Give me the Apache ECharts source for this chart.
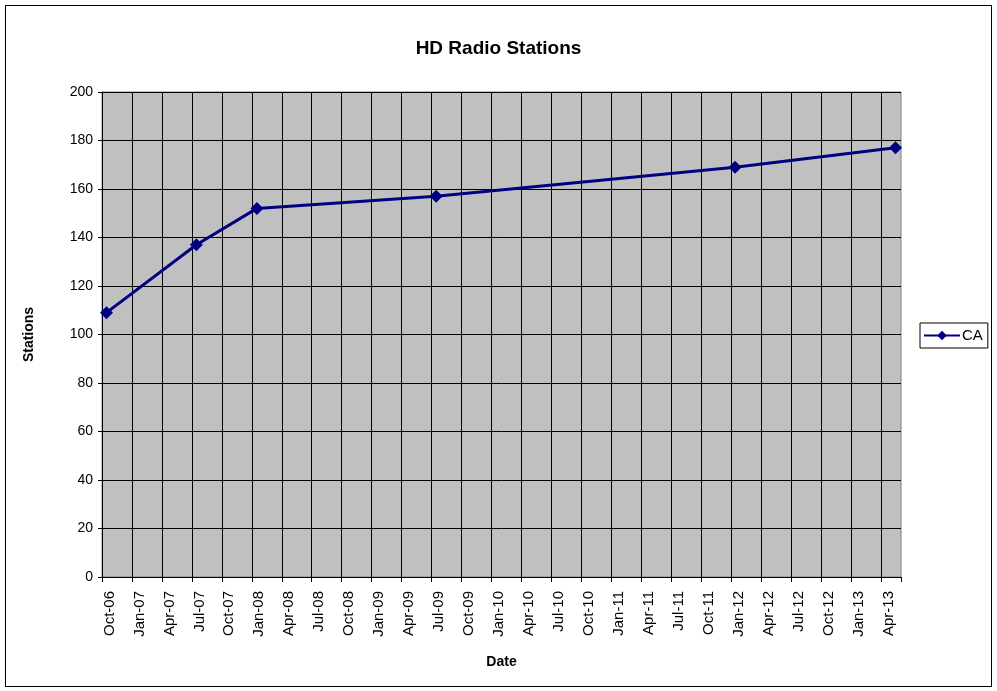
<!DOCTYPE html>
<html>
<head>
<meta charset="utf-8">
<script src="https://cdn.jsdelivr.net/npm/echarts@6/dist/echarts.min.js"></script>
<style>
html,body{margin:0;padding:0;background:#fff;}
#frame{position:absolute;left:5px;top:5px;width:985px;height:680px;border:1px solid #000;box-sizing:content-box;}
#c{position:absolute;left:0;top:0;width:997px;height:691px;}
</style>
</head>
<body>
<div id="frame"></div>
<div id="c"></div>
<script>
// Tick labels (quarters starting at Oct-06)
const tickLabels = ['Oct-06','Jan-07','Apr-07','Jul-07','Oct-07','Jan-08','Apr-08','Jul-08','Oct-08','Jan-09','Apr-09','Jul-09','Oct-09','Jan-10','Apr-10','Jul-10','Oct-10','Jan-11','Apr-11','Jul-11','Oct-11','Jan-12','Apr-12','Jul-12','Oct-12','Jan-13','Apr-13'];
// Observation dates and station counts
const dates = ['2006-10-15','2007-07-15','2008-01-17','2009-07-15','2012-01-13','2013-05-15'];
const stations = [109, 137, 152, 157, 169, 177];
const seriesName = 'CA';

// months elapsed since 1 Oct 2006 (fractional)
function monthsSinceStart(s){
  const [y,m,d] = s.split('-').map(Number);
  const dim = new Date(y, m, 0).getDate();
  return (y-2006)*12 + (m-10) + (d-1)/dim;
}
const seriesData = dates.map((d,i)=>[monthsSinceStart(d), stations[i]]);

const font = 'Liberation Sans, Arial, sans-serif';
const chart = echarts.init(document.getElementById('c'), null, {renderer:'canvas'});
chart.setOption({
  animation:false,
  backgroundColor:'transparent',
  title:{
    text:'HD Radio Stations', left:'center', top:34,
    textStyle:{fontFamily:font, fontSize:19, fontWeight:'bold', color:'#000'}
  },
  legend:{
    left:920, top:323, orient:'vertical',
    borderColor:'#000', borderWidth:1, padding:[5,5,5,3],
    itemWidth:36, itemHeight:12, itemGap:0,
    textStyle:{fontFamily:font, fontSize:15, color:'#000', padding:[0,0,0,-3]},
    data:[seriesName]
  },
  grid:{
    left:102, top:92, right:96, bottom:114,
    show:true, backgroundColor:'#c0c0c0', borderColor:'#808080', borderWidth:1
  },
  xAxis:{
    type:'value', min:0, max:80, interval:3,
    name:'Date', nameLocation:'middle', nameGap:78,
    nameTextStyle:{fontFamily:font, fontSize:14, fontWeight:'bold', color:'#000'},
    axisLine:{show:true, lineStyle:{color:'#000', width:1}},
    axisTick:{show:true, length:5, lineStyle:{color:'#000'}},
    splitLine:{show:true, showMaxLine:false, lineStyle:{color:'#000', width:1}},
    axisLabel:{
      rotate:90, margin:14, fontFamily:font, fontSize:15, color:'#000',
      verticalAlign:'top', lineHeight:15,
      showMaxLabel:true,
      formatter:function(v){ return (v%3===0 && tickLabels[v/3]) ? tickLabels[v/3] : ''; }
    }
  },
  yAxis:{
    type:'value', min:0, max:200, interval:20,
    name:'Stations', nameLocation:'middle', nameGap:66, nameRotate:90,
    nameTextStyle:{fontFamily:font, fontSize:14, fontWeight:'bold', color:'#000'},
    axisLine:{show:true, lineStyle:{color:'#000', width:1}},
    axisTick:{show:true, length:4, lineStyle:{color:'#000'}},
    splitLine:{show:true, lineStyle:{color:'#000', width:1}},
    axisLabel:{margin:9, fontFamily:font, fontSize:14, color:'#000'}
  },
  series:[{
    name:seriesName, type:'line', data:seriesData,
    symbol:'diamond', symbolSize:13,
    lineStyle:{color:'#000080', width:3},
    itemStyle:{color:'#000080'}
  }]
});
</script>
</body>
</html>
